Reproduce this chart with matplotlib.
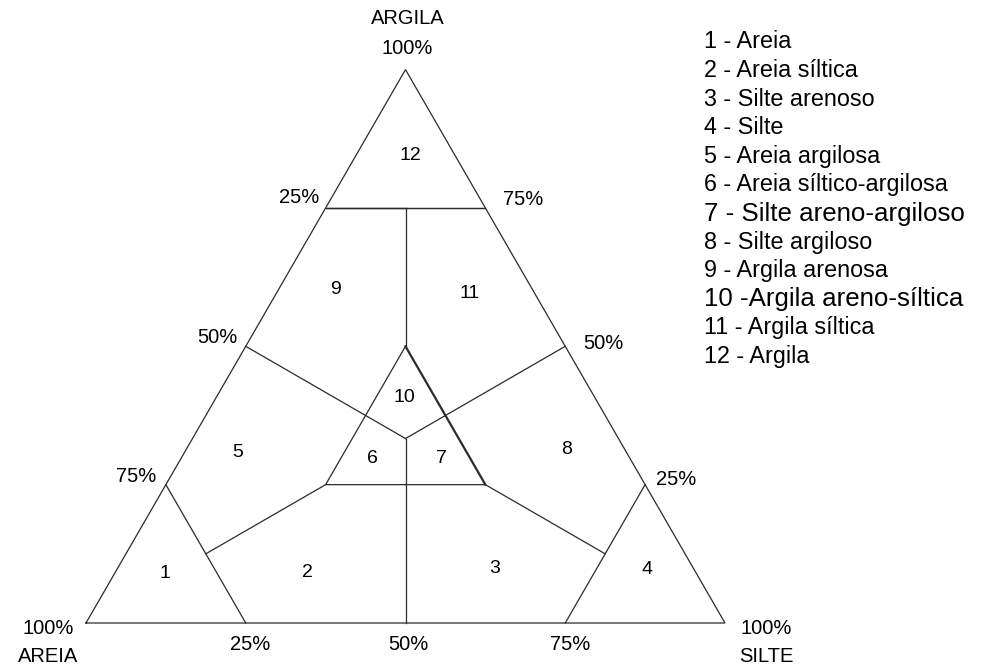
import numpy as np
import matplotlib
matplotlib.use("Agg")
import matplotlib.pyplot as plt

plt.rcParams['font.family'] = ['Liberation Sans', 'DejaVu Sans']

# Compositions are (areia, silte, argila) fractions
outer = [(1, 0, 0), (0, 1, 0), (0, 0, 1), (1, 0, 0)]
boundaries = [
    [(0.125, 0.125, 0.75), (0.25, 0.0, 0.75), (0.0, 0.25, 0.75)],
    [(0.25, 0.0, 0.75), (0.0, 0.25, 0.75)],
    [(0.125, 0.125, 0.75), (0.25, 0.25, 0.5)],
    [(0.25, 0.25, 0.5), (0.5, 0.25, 0.25), (0.25, 0.5, 0.25)],
    [(0.5, 0.0, 0.5), (1/3, 1/3, 1/3)],
    [(0.0, 0.5, 0.5), (1/3, 1/3, 1/3)],
    [(0.5, 0.5, 0.0), (1/3, 1/3, 1/3)],
    [(0.75, 0.0, 0.25), (0.75, 0.25, 0.0)],
    [(0.0, 0.75, 0.25), (0.25, 0.75, 0.0)],
    [(0.75, 0.125, 0.125), (0.5, 0.25, 0.25)],
    [(0.125, 0.75, 0.125), (0.25, 0.5, 0.25)],
]
heavy_edge = [(0.25, 0.25, 0.5), (0.25, 0.5, 0.25)]

region_ids = ["1", "2", "3", "4", "5", "6", "7", "8", "9", "10", "11", "12"]
region_pos = [
    (0.831, 0.079, 0.090), (0.608, 0.300, 0.092), (0.311, 0.590, 0.099),
    (0.074, 0.830, 0.096), (0.608, 0.083, 0.309), (0.403, 0.299, 0.298),
    (0.295, 0.407, 0.298), (0.092, 0.595, 0.313), (0.309, 0.089, 0.602),
    (0.297, 0.295, 0.408), (0.101, 0.303, 0.596), (0.070, 0.085, 0.845),
]

legend_names = [
    "Areia", "Areia síltica", "Silte arenoso", "Silte", "Areia argilosa",
    "Areia síltico-argilosa", "Silte areno-argiloso", "Silte argiloso",
    "Argila arenosa", "Argila areno-síltica", "Argila síltica", "Argila",
]

tick_values = [0.25, 0.50, 0.75]
tick_labels = ["25%", "50%", "75%"]


def to_xy(comp):
    sand, silt, clay = comp
    return silt + clay / 2.0, clay * np.sqrt(3) / 2.0


def path(points):
    xy = np.array([to_xy(p) for p in points])
    return xy[:, 0], xy[:, 1]


W, H = 981, 664
fig = plt.figure(figsize=(W / 100, H / 100), dpi=100)
ax = fig.add_axes([0, 0, 1, 1])
scale, x0, ybase = 639.0, 86.0, 623.0
ax.set_xlim(-x0 / scale, (W - x0) / scale)
ax.set_ylim(-(H - ybase) / scale, ybase / scale)
ax.axis('off')

lc = '#2b2b2b'
ax.plot(*path(outer), color=lc, lw=0.9, solid_joinstyle='miter')
for seg in boundaries:
    ax.plot(*path(seg), color=lc, lw=0.9)
ax.plot(*path(heavy_edge), color=lc, lw=1.6)

for rid, pos in zip(region_ids, region_pos):
    x, y = to_xy(pos)
    ax.text(x, y, rid, ha='center', va='center', fontsize=14, color='black')

fs = 14.5


def label(comp, txt, dx, dy):
    ax.annotate(txt, xy=to_xy(comp), xytext=(dx, -dy), textcoords='offset pixels',
                ha='center', va='center', fontsize=fs, color='black')


# areia (left edge)
for v, t, off in zip(tick_values, tick_labels, [(-26, -10), (-28, -9), (-30, -8)]):
    label((v, 0.0, 1 - v), t, *off)
# silte (bottom edge)
for v, t, off in zip(tick_values, tick_labels, [(4, 22), (3, 22), (5, 22)]):
    label((1 - v, v, 0.0), t, *off)
# argila (right edge)
for v, t, off in zip(tick_values, tick_labels, [(31, -5), (38, -3), (38, -8)]):
    label((0.0, 1 - v, v), t, *off)

label((0, 0, 1), "100%", 2, -21)
label((0, 0, 1), "ARGILA", 2, -51)
label((1, 0, 0), "100%", -38, 5)
label((1, 0, 0), "AREIA", -38, 33)
label((0, 1, 0), "100%", 41, 5)
label((0, 1, 0), "SILTE", 41, 33)

# legend list
for i, (rid, name) in enumerate(zip(region_ids, legend_names)):
    sep = " -" if rid == "10" else " - "
    size = 18.6 if rid in ("7", "10") else 16.8
    fig.text(704 / W, 1 - (42 + i * 28.6) / H, f"{rid}{sep}{name}",
             ha='left', va='center', fontsize=size, color='black')

fig.savefig("out.png", dpi=100)
